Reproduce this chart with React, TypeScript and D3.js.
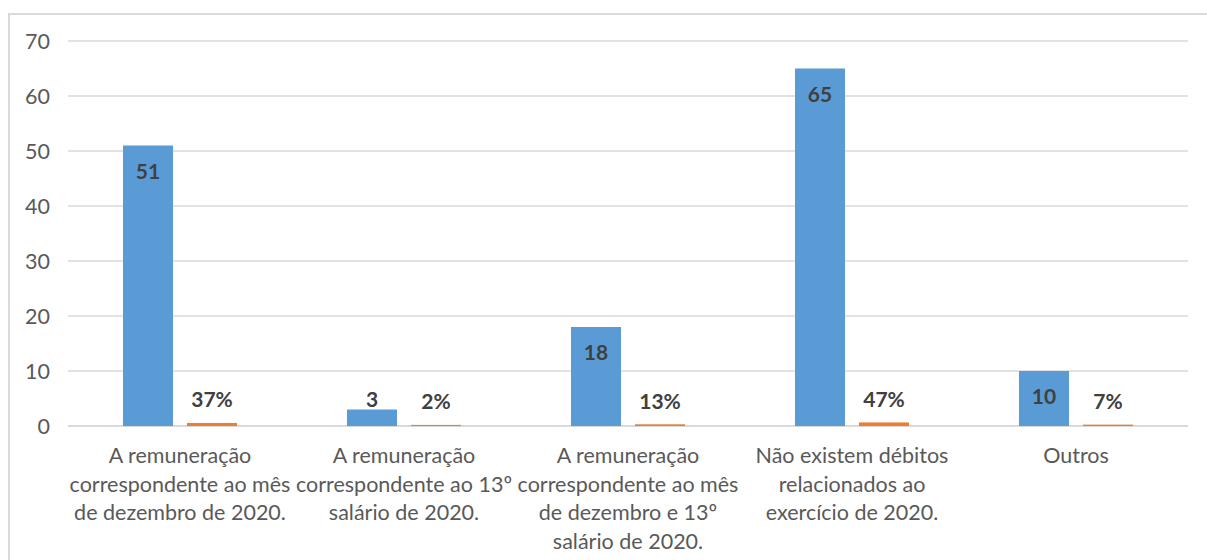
import * as d3 from 'd3';
import { useEffect, useRef } from 'react';

const categories = [
  ['A remuneração', 'correspondente ao mês', 'de dezembro de 2020.'],
  ['A remuneração', 'correspondente ao 13º', 'salário de 2020.'],
  ['A remuneração', 'correspondente ao mês', 'de dezembro e 13º', 'salário de 2020.'],
  ['Não existem débitos', 'relacionados ao', 'exercício de 2020.'],
  ['Outros'],
];
const counts = [51, 3, 18, 65, 10];
const shares = [0.37, 0.02, 0.13, 0.47, 0.07];
const yTicks = [0, 10, 20, 30, 40, 50, 60, 70];

const FONT = 'Lato, "Open Sans", sans-serif';

function App() {
  const ref = useRef<SVGSVGElement>(null);

  useEffect(() => {
    const W = 1207, H = 560;
    const left = 68, right = 1188, top = 41, bottom = 426;

    const svg = d3.select(ref.current);
    svg.selectAll('*').remove();

    svg.append('rect')
      .attr('x', 9).attr('y', 14)
      .attr('width', W + 10).attr('height', H + 10)
      .attr('fill', '#fff')
      .attr('stroke', '#d9d9d9')
      .attr('stroke-width', 2);

    const x = d3.scaleBand<number>()
      .domain(d3.range(categories.length))
      .range([left, right]);
    const y = d3.scaleLinear().domain([0, 70]).range([bottom, top]);

    const barW = 50, gap = 14;

    // gridlines + tick labels
    const grid = svg.append('g');
    yTicks.forEach((t) => {
      grid.append('line')
        .attr('x1', left).attr('x2', right)
        .attr('y1', y(t)).attr('y2', y(t))
        .attr('stroke', '#d9d9d9')
        .attr('stroke-width', t === 0 ? 2 : 1.3);
      grid.append('text')
        .attr('x', 50).attr('y', y(t))
        .attr('dy', '0.35em')
        .attr('text-anchor', 'end')
        .style('font-family', FONT)
        .style('font-size', '21.5px')
        .style('fill', '#595959')
        .text(t);
    });

    const groups = svg.append('g')
      .selectAll('g')
      .data(d3.range(categories.length))
      .join('g')
      .attr('transform', (i) => `translate(${x(i)! + x.bandwidth() / 2},0)`);

    // blue bars (counts)
    groups.append('rect')
      .attr('x', -barW - gap / 2)
      .attr('y', (i) => y(counts[i]))
      .attr('width', barW)
      .attr('height', (i) => bottom - y(counts[i]))
      .attr('fill', '#5b9bd5');

    // orange bars (shares)
    groups.append('rect')
      .attr('x', gap / 2)
      .attr('y', (i) => y(shares[i]) - 1)
      .attr('width', barW)
      .attr('height', (i) => bottom - y(shares[i]) + 1)
      .attr('fill', '#ed7d31');

    const labelStyle = (sel: any) => sel
      .attr('text-anchor', 'middle')
      .attr('dy', '0.35em')
      .style('font-family', FONT)
      .style('font-size', '21px')
      .style('font-weight', 'bold')
      .style('fill', '#404040');

    groups.append('text')
      .attr('x', -barW / 2 - gap / 2)
      .attr('y', (i) => {
        const h = bottom - y(counts[i]);
        return h < 40 ? y(counts[i]) - 10 : y(counts[i]) + 26;
      })
      .call(labelStyle)
      .text((i) => counts[i]);

    groups.append('text')
      .attr('x', barW / 2 + gap / 2)
      .attr('y', (i) => y(shares[i]) - 24)
      .call(labelStyle)
      .text((i) => `${Math.round(shares[i] * 100)}%`);

    // category labels
    groups.append('text')
      .attr('text-anchor', 'middle')
      .style('font-family', FONT)
      .style('font-size', '21.5px')
      .style('fill', '#595959')
      .each(function (i) {
        d3.select(this).selectAll('tspan')
          .data(categories[i])
          .join('tspan')
          .attr('x', 0)
          .attr('y', (_, k) => 463 + k * 28.5)
          .text((s) => s);
      });
  }, []);

  return (
    <svg
      ref={ref}
      width={1207}
      height={560}
      style={{ position: 'absolute', left: 0, top: 0, display: 'block', background: '#fff' }}
    />
  );
}

export default App;
